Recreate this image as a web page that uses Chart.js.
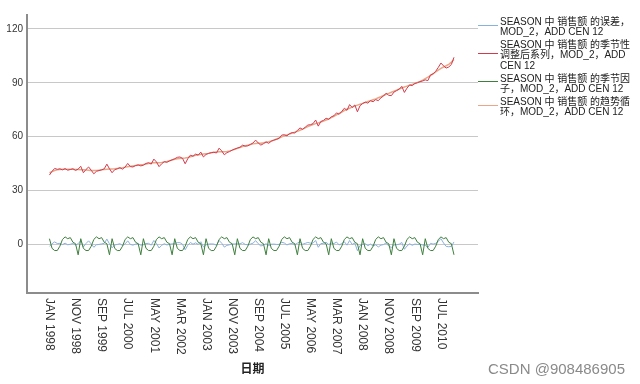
<!DOCTYPE html>
<html><head><meta charset="utf-8">
<script src="https://cdn.jsdelivr.net/npm/chart.js@4.4.0/dist/chart.umd.min.js"></script>
<style>
html,body{margin:0;padding:0;background:#fff;}
#wrap{position:relative;width:640px;height:384px;overflow:hidden;}
canvas{position:absolute;left:0;top:0;}
#legend{position:absolute;left:478px;top:17px;font-family:"Liberation Sans","Noto Sans CJK SC",sans-serif;font-size:10px;line-height:10.3px;color:#222;}
.item{position:relative;padding-left:22px;margin-bottom:2.6px;white-space:nowrap;}
.mk{position:absolute;left:0;width:20px;height:1px;}
#wm{position:absolute;left:488px;top:360px;font:15px "Liberation Sans",sans-serif;color:#8a8a8a;}
</style></head><body>
<div id="wrap"><canvas id="c" width="640" height="384"></canvas><div id="legend"></div><div id="wm">CSDN @908486905</div></div>
<script>
const MONTHS=['JAN','FEB','MAR','APR','MAY','JUN','JUL','AUG','SEP','OCT','NOV','DEC'];
const YEARS=[1998,1999,2000,2001,2002,2003,2004,2005,2006,2007,2008,2009,2010];
const tickLabels=['JAN 1998','NOV 1998','SEP 1999','JUL 2000','MAY 2001','MAR 2002','JAN 2003','NOV 2003','SEP 2004','JUL 2005','MAY 2006','MAR 2007','JAN 2008','NOV 2008','SEP 2009','JUL 2010'];
const yTicks=[0,30,60,90,120];
const xAxisTitle='日期';

const errorSeries=[
-1.3,0.2,1.2,0.3,0.4,-0.3,0.5,-0.4,-0.1,0.3,-0.5,0.2,
1.9,-1.6,0.3,1.8,0.1,-1.8,-0.4,-0.2,0.1,0.4,2.8,0.1,
-2.1,-0.5,-0.2,0.2,-0.8,0.1,1.8,-0.2,-0.6,0.0,0.2,-0.6,
-0.4,0.3,0.4,-0.6,2.0,0.4,-2.2,-0.7,0.2,-0.5,-0.1,0.1,
0.3,0.8,0.8,-0.1,-3.2,-0.7,0.9,-0.1,0.7,-0.2,1.3,-1.6,
-0.4,0.0,0.1,0.0,-0.6,2.0,0.5,-1.7,-0.7,-0.4,0.0,0.1,
0.2,0.1,0.8,-0.2,-0.4,0.0,0.5,1.9,0.2,-1.1,-0.5,0.2,
-0.9,-0.1,0.0,-0.2,-0.2,1.0,0.6,-0.5,0.2,0.3,-0.4,0.5,
1.3,-0.1,0.4,0.9,0.5,0.5,2.0,-1.8,0.3,0.4,1.0,-0.2,
0.5,0.3,1.1,-0.5,0.3,1.3,-0.6,2.0,-0.2,0.6,-3.7,-0.8,
-0.1,0.2,-0.9,0.0,-1.1,-0.4,-1.6,-0.6,-0.3,0.7,-1.1,-1.9,
-0.5,-0.3,-0.1,0.9,-2.9,-1.1,0.2,-0.7,0.0,-0.2,-0.2,-0.5,
-0.7,-1.9,0.4,0.0,0.4,1.6,3.0,0.6,-1.3,-1.5,-1.3,1.2];

const adjustedSeries=[
38.5,40.6,42.2,41.7,42.0,41.4,42.1,41.2,41.6,42.0,41.1,41.8,
43.4,39.8,41.6,43.0,41.2,39.2,40.6,41.0,41.4,42.0,44.6,42.0,
39.8,41.5,42.0,42.6,41.8,43.0,45.0,43.2,43.0,43.8,44.2,43.6,
44.0,45.0,45.4,44.6,47.4,45.8,43.2,44.8,46.0,45.6,46.4,47.0,
47.6,48.4,48.6,47.8,44.8,47.6,49.6,49.0,50.2,49.6,51.3,48.6,
50.0,50.6,51.0,51.2,50.8,53.5,52.0,49.8,51.0,51.6,52.4,53.0,
53.6,54.0,55.2,54.6,54.8,55.6,56.4,58.0,56.4,55.2,56.0,57.0,
56.2,57.4,58.0,58.4,59.0,60.8,61.0,60.4,61.6,62.2,62.0,63.4,
64.8,64.0,65.2,66.4,66.6,67.2,69.2,65.8,68.4,69.0,70.2,69.6,
71.0,71.6,73.2,72.4,74.0,75.8,74.6,77.8,76.2,77.6,73.8,77.2,
78.4,79.2,78.6,80.0,79.4,80.6,80.0,81.6,82.6,84.2,83.0,82.8,
84.8,85.6,86.4,88.0,84.6,87.0,88.8,88.4,89.6,90.0,90.6,91.0,
91.6,91.2,94.4,95.0,96.4,98.6,101.0,99.4,98.2,98.8,100.2,104.2];

const seasonalSeries=[
3.0,-2.4,-3.6,-3.6,-1.2,2.6,4.0,3.0,3.6,1.0,0.2,-6.0,
3.0,-2.4,-3.6,-3.6,-1.2,2.6,4.0,3.0,3.6,1.0,0.2,-6.0,
3.0,-2.4,-3.6,-3.6,-1.2,2.6,4.0,3.0,3.6,1.0,0.2,-6.0,
3.0,-2.4,-3.6,-3.6,-1.2,2.6,4.0,3.0,3.6,1.0,0.2,-6.0,
3.0,-2.4,-3.6,-3.6,-1.2,2.6,4.0,3.0,3.6,1.0,0.2,-6.0,
3.0,-2.4,-3.6,-3.6,-1.2,2.6,4.0,3.0,3.6,1.0,0.2,-6.0,
3.0,-2.4,-3.6,-3.6,-1.2,2.6,4.0,3.0,3.6,1.0,0.2,-6.0,
3.0,-2.4,-3.6,-3.6,-1.2,2.6,4.0,3.0,3.6,1.0,0.2,-6.0,
3.0,-2.4,-3.6,-3.6,-1.2,2.6,4.0,3.0,3.6,1.0,0.2,-6.0,
3.0,-2.4,-3.6,-3.6,-1.2,2.6,4.0,3.0,3.6,1.0,0.2,-6.0,
3.0,-2.4,-3.6,-3.6,-1.2,2.6,4.0,3.0,3.6,1.0,0.2,-6.0,
3.0,-2.4,-3.6,-3.6,-1.2,2.6,4.0,3.0,3.6,1.0,0.2,-6.0,
3.0,-2.4,-3.6,-3.6,-1.2,2.6,4.0,3.0,3.6,1.0,0.2,-6.0];

const trendSeries=[
39.8,40.4,41.0,41.4,41.6,41.7,41.7,41.7,41.7,41.7,41.6,41.6,
41.5,41.4,41.3,41.2,41.1,41.0,41.0,41.2,41.4,41.6,41.8,41.9,
41.9,42.0,42.2,42.4,42.6,42.9,43.2,43.4,43.6,43.8,44.0,44.2,
44.4,44.7,45.0,45.2,45.4,45.4,45.4,45.5,45.8,46.1,46.5,46.9,
47.3,47.6,47.8,47.9,48.0,48.3,48.7,49.1,49.5,49.8,50.0,50.2,
50.4,50.6,50.9,51.2,51.4,51.5,51.5,51.5,51.7,52.0,52.4,52.9,
53.4,53.9,54.4,54.8,55.2,55.6,55.9,56.1,56.2,56.3,56.5,56.8,
57.1,57.5,58.0,58.6,59.2,59.8,60.4,60.9,61.4,61.9,62.4,62.9,
63.5,64.1,64.8,65.5,66.1,66.7,67.2,67.6,68.1,68.6,69.2,69.8,
70.5,71.3,72.1,72.9,73.7,74.5,75.2,75.8,76.4,77.0,77.5,78.0,
78.5,79.0,79.5,80.0,80.5,81.0,81.6,82.2,82.9,83.5,84.1,84.7,
85.3,85.9,86.5,87.1,87.6,88.1,88.6,89.1,89.6,90.2,90.8,91.5,
92.3,93.1,94.0,95.0,96.0,97.0,98.0,98.8,99.5,100.3,101.5,103.0];

const seriesNames=[
['SEASON 中 销售额 的误差，','MOD_2，ADD CEN 12'],
['SEASON 中 销售额 的季节性','调整后系列，MOD_2，ADD','CEN 12'],
['SEASON 中 销售额 的季节因','子，MOD_2，ADD CEN 12'],
['SEASON 中 销售额 的趋势循','环，MOD_2，ADD CEN 12']];
const seriesColors=['#8ab0dc','#d23a4e','#3e7f3e','#e8a888'];

const categories=YEARS.flatMap(y=>MONTHS.map(m=>m+' '+y));
const pts=a=>a.map((v,i)=>({x:i,y:v}));

const xLabelPlugin={
  id:'xlab',
  afterDraw(chart){
    const ctx=chart.ctx,xs=chart.scales.x,area=chart.chartArea;
    ctx.save();
    ctx.font='12px "Liberation Sans", Arial, sans-serif';
    ctx.fillStyle='#333';
    ctx.textAlign='left';ctx.textBaseline='middle';
    tickLabels.forEach(l=>{
      const px=xs.getPixelForValue(categories.indexOf(l));
      ctx.save();ctx.translate(px,area.bottom+5);ctx.rotate(Math.PI/2);ctx.fillText(l,0,0);ctx.restore();
    });
    ctx.font='bold 12px "Noto Sans CJK SC", sans-serif';
    ctx.fillStyle='#222';
    ctx.textAlign='center';
    ctx.fillText(xAxisTitle,(area.left+area.right)/2,368);
    ctx.restore();
  }
};

new Chart(document.getElementById('c'),{
  type:'line',
  data:{datasets:[
    {label:seriesNames[0].join(''),data:pts(errorSeries),borderColor:seriesColors[0],borderWidth:1,order:3},
    {label:seriesNames[1].join(''),data:pts(adjustedSeries),borderColor:seriesColors[1],borderWidth:1,order:1},
    {label:seriesNames[2].join(''),data:pts(seasonalSeries),borderColor:seriesColors[2],borderWidth:1,order:2},
    {label:seriesNames[3].join(''),data:pts(trendSeries),borderColor:seriesColors[3],borderWidth:1.5,order:4}
  ]},
  options:{
    responsive:false,animation:false,devicePixelRatio:1,
    layout:{padding:{top:15,right:162,bottom:0,left:0}},
    elements:{point:{radius:0},line:{tension:0}},
    plugins:{legend:{display:false},tooltip:{enabled:false}},
    scales:{
      x:{type:'linear',min:-8.6,max:164.2,
         ticks:{display:false},grid:{display:false},
         border:{display:true,color:'#8c8c8c',width:2},
         afterFit(s){s.height=91;}},
      y:{min:-27.3,max:127.8,
         afterBuildTicks(s){s.ticks=yTicks.map(v=>({value:v}));},
         ticks:{font:{family:'"Liberation Sans", Arial, sans-serif',size:10},color:'#333',padding:4},
         grid:{color:'#c8c8c8',lineWidth:1,drawTicks:false},
         border:{display:true,color:'#8c8c8c',width:2},
         afterFit(s){s.width=27;}}
    }
  },
  plugins:[xLabelPlugin]
});

const lg=document.getElementById('legend');
seriesNames.forEach((lines,i)=>{
  const it=document.createElement('div');it.className='item';
  const mk=document.createElement('div');mk.className='mk';mk.style.background=seriesColors[i];
  mk.style.top=(lines.length*10.3/2-2.5)+'px';
  it.appendChild(mk);
  lines.forEach((t,j)=>{if(j)it.appendChild(document.createElement('br'));it.appendChild(document.createTextNode(t));});
  lg.appendChild(it);
});
</script>
</body></html>
